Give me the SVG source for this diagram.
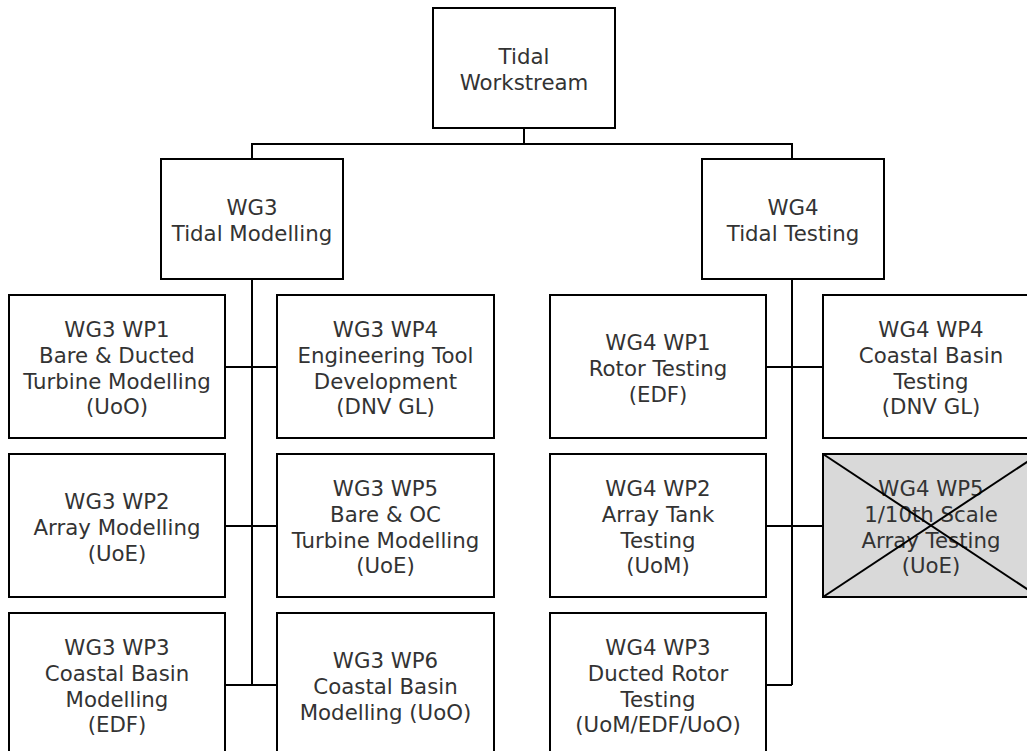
<svg xmlns="http://www.w3.org/2000/svg" width="1027" height="751" viewBox="0 0 1027 751">
<style>
.box{fill:#ffffff;stroke:#000000;stroke-width:2}
.off{fill:#d9d9d9;stroke:#000000;stroke-width:2}
.cross{stroke:#000000;stroke-width:2}
.lbl{font-family:"DejaVu Sans",Verdana,sans-serif;font-size:21.3px;fill:#333333;text-anchor:middle}
.conn{fill:none;stroke:#000000;stroke-width:2}
</style>
<rect width="1027" height="751" fill="#ffffff"/>
<g id="connectors">
<path class="conn" d="M524 128V144M251 144H793M252 144V159M792 144V159"/>
<path class="conn" d="M252 279V685M225 367H277M225 526H277M225 685H277"/>
<path class="conn" d="M792 279V685M766 367H823M766 526H823M766 685H792"/>
</g>
<g id="tidal-workstream">
<rect class="box" x="433" y="8" width="182" height="120"/>
<text class="lbl" x="524" y="64">Tidal</text>
<text class="lbl" x="524" y="90">Workstream</text>
</g>
<g id="wg3">
<rect class="box" x="161" y="159" width="182" height="120"/>
<text class="lbl" x="252" y="215">WG3</text>
<text class="lbl" x="252" y="241">Tidal Modelling</text>
</g>
<g id="wg4">
<rect class="box" x="702" y="159" width="182" height="120"/>
<text class="lbl" x="793" y="215">WG4</text>
<text class="lbl" x="793" y="241">Tidal Testing</text>
</g>
<g id="wg3-wp1">
<rect class="box" x="9" y="295" width="216" height="143"/>
<text class="lbl" x="117" y="337">WG3 WP1</text>
<text class="lbl" x="117" y="363">Bare &amp; Ducted</text>
<text class="lbl" x="117" y="389">Turbine Modelling</text>
<text class="lbl" x="117" y="414">(UoO)</text>
</g>
<g id="wg3-wp4">
<rect class="box" x="277" y="295" width="217" height="143"/>
<text class="lbl" x="385.5" y="337">WG3 WP4</text>
<text class="lbl" x="385.5" y="363">Engineering Tool</text>
<text class="lbl" x="385.5" y="389">Development</text>
<text class="lbl" x="385.5" y="414">(DNV GL)</text>
</g>
<g id="wg3-wp2">
<rect class="box" x="9" y="454" width="216" height="143"/>
<text class="lbl" x="117" y="509">WG3 WP2</text>
<text class="lbl" x="117" y="535">Array Modelling</text>
<text class="lbl" x="117" y="561">(UoE)</text>
</g>
<g id="wg3-wp5">
<rect class="box" x="277" y="454" width="217" height="143"/>
<text class="lbl" x="385.5" y="496">WG3 WP5</text>
<text class="lbl" x="385.5" y="522">Bare &amp; OC</text>
<text class="lbl" x="385.5" y="548">Turbine Modelling</text>
<text class="lbl" x="385.5" y="573">(UoE)</text>
</g>
<g id="wg3-wp3">
<rect class="box" x="9" y="613" width="216" height="143"/>
<text class="lbl" x="117" y="655">WG3 WP3</text>
<text class="lbl" x="117" y="681">Coastal Basin</text>
<text class="lbl" x="117" y="707">Modelling</text>
<text class="lbl" x="117" y="732">(EDF)</text>
</g>
<g id="wg3-wp6">
<rect class="box" x="277" y="613" width="217" height="143"/>
<text class="lbl" x="385.5" y="668">WG3 WP6</text>
<text class="lbl" x="385.5" y="694">Coastal Basin</text>
<text class="lbl" x="385.5" y="720">Modelling (UoO)</text>
</g>
<g id="wg4-wp1">
<rect class="box" x="550" y="295" width="216" height="143"/>
<text class="lbl" x="658" y="350">WG4 WP1</text>
<text class="lbl" x="658" y="376">Rotor Testing</text>
<text class="lbl" x="658" y="402">(EDF)</text>
</g>
<g id="wg4-wp4">
<rect class="box" x="823" y="295" width="216" height="143"/>
<text class="lbl" x="931" y="337">WG4 WP4</text>
<text class="lbl" x="931" y="363">Coastal Basin</text>
<text class="lbl" x="931" y="389">Testing</text>
<text class="lbl" x="931" y="414">(DNV GL)</text>
</g>
<g id="wg4-wp2">
<rect class="box" x="550" y="454" width="216" height="143"/>
<text class="lbl" x="658" y="496">WG4 WP2</text>
<text class="lbl" x="658" y="522">Array Tank</text>
<text class="lbl" x="658" y="548">Testing</text>
<text class="lbl" x="658" y="573">(UoM)</text>
</g>
<g id="wg4-wp5">
<rect class="off" x="823" y="454" width="216" height="143"/>
<text class="lbl" x="931" y="496">WG4 WP5</text>
<text class="lbl" x="931" y="522">1/10th Scale</text>
<text class="lbl" x="931" y="548">Array Testing</text>
<text class="lbl" x="931" y="573">(UoE)</text>
<line class="cross" x1="823" y1="454" x2="1039" y2="597"/>
<line class="cross" x1="823" y1="597" x2="1039" y2="454"/>
</g>
<g id="wg4-wp3">
<rect class="box" x="550" y="613" width="216" height="143"/>
<text class="lbl" x="658" y="655">WG4 WP3</text>
<text class="lbl" x="658" y="681">Ducted Rotor</text>
<text class="lbl" x="658" y="707">Testing</text>
<text class="lbl" x="658" y="732">(UoM/EDF/UoO)</text>
</g>
</svg>
